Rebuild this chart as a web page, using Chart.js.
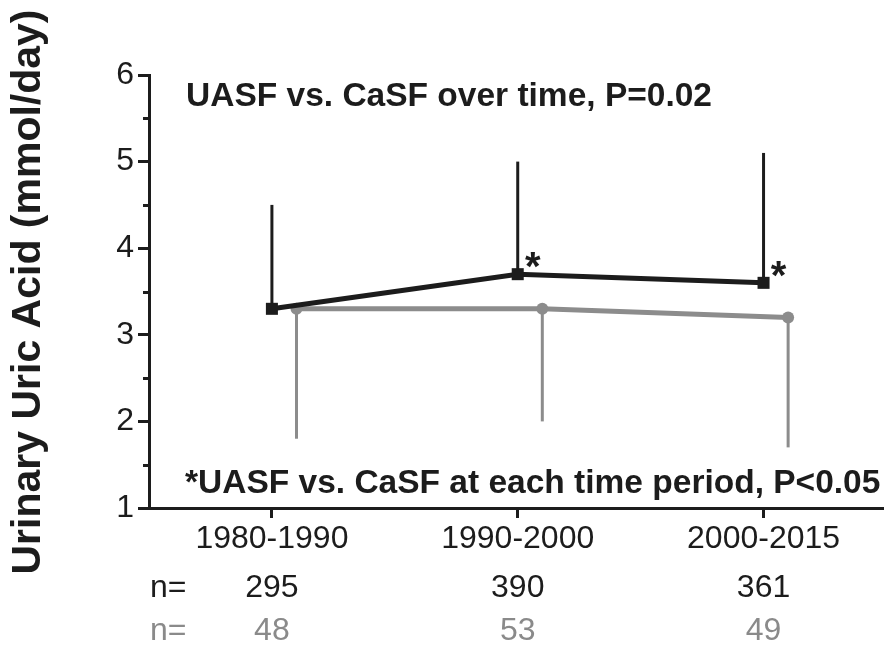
<!DOCTYPE html>
<html><head><meta charset="utf-8">
<script src="https://cdn.jsdelivr.net/npm/chart.js@4.4.1/dist/chart.umd.min.js"></script>
<style>html,body{margin:0;padding:0;background:#fff;}#wrap{width:884px;height:648px;}</style>
</head><body><div id="wrap"><canvas id="c" width="884" height="648"></canvas></div>
<script>
// ---- data ----
const categories = ['1980-1990', '1990-2000', '2000-2015'];
const uasfMean  = [3.3, 3.7, 3.6];
const uasfUpper = [4.5, 5.0, 5.1];
const casfMean  = [3.3, 3.3, 3.2];
const casfLower = [1.8, 2.0, 1.7];
const uasfN = [295, 390, 361];
const casfN = [48, 53, 49];
const sigFlags = [false, true, true];
const yTicks = [1, 2, 3, 4, 5, 6];
const titleText = 'UASF vs. CaSF over time, P=0.02';
const footText = '*UASF vs. CaSF at each time period, P<0.05';
const yTitle = 'Urinary Uric Acid (mmol/day)';

// ---- style ----
const BLACK = '#1c1c1c';
const GRAY = '#8c8c8c';
const GRAYTXT = '#8a8a8a';
const DODGE = 0.1;
const FONT = '"Liberation Sans", Arial, Helvetica, sans-serif';

const overlay = {
  id: 'overlay',
  beforeDatasetsDraw(chart) {
    const {ctx, scales: {x, y}} = chart;
    ctx.save();
    ctx.lineCap = 'butt';
    ctx.strokeStyle = BLACK; ctx.lineWidth = 3;
    uasfMean.forEach((m, i) => {
      const px = x.getPixelForValue(i);
      ctx.beginPath(); ctx.moveTo(px, y.getPixelForValue(m)); ctx.lineTo(px, y.getPixelForValue(uasfUpper[i])); ctx.stroke();
    });
    ctx.strokeStyle = GRAY; ctx.lineWidth = 3;
    casfMean.forEach((m, i) => {
      const px = x.getPixelForValue(i + DODGE);
      ctx.beginPath(); ctx.moveTo(px, y.getPixelForValue(m)); ctx.lineTo(px, y.getPixelForValue(casfLower[i])); ctx.stroke();
    });
    ctx.restore();
  },
  afterDraw(chart) {
    const {ctx, chartArea, scales: {x, y}} = chart;
    ctx.save();
    // minor ticks
    ctx.strokeStyle = BLACK; ctx.lineWidth = 3;
    for (let k = 0; k < yTicks.length - 1; k++) {
      const v = (yTicks[k] + yTicks[k + 1]) / 2;
      const py = Math.round(y.getPixelForValue(v)) + 0.5;
      ctx.beginPath(); ctx.moveTo(chartArea.left - 6, py); ctx.lineTo(chartArea.left, py); ctx.stroke();
    }
    // asterisks
    ctx.fillStyle = BLACK;
    ctx.font = 'bold 40px ' + FONT;
    ctx.textAlign = 'center'; ctx.textBaseline = 'alphabetic';
    sigFlags.forEach((s, i) => {
      if (!s) return;
      ctx.fillText('*', x.getPixelForValue(i) + 15, y.getPixelForValue(uasfMean[i]) + 6);
    });
    // annotations
    ctx.font = 'bold 33.5px ' + FONT;
    ctx.textAlign = 'left'; ctx.textBaseline = 'middle';
    ctx.fillText(titleText, 186, 97);
    ctx.fillText(footText, 185, 484);
    // n rows
    ctx.font = '32px ' + FONT;
    ctx.textAlign = 'left';
    ctx.fillStyle = BLACK; ctx.fillText('n=', 150, 588);
    ctx.fillStyle = GRAYTXT; ctx.fillText('n=', 150, 631);
    ctx.textAlign = 'center';
    uasfN.forEach((n, i) => { ctx.fillStyle = BLACK; ctx.fillText(String(n), x.getPixelForValue(i), 588); });
    casfN.forEach((n, i) => { ctx.fillStyle = GRAYTXT; ctx.fillText(String(n), x.getPixelForValue(i), 631); });
    // y title
    ctx.translate(29, 292);
    ctx.rotate(-Math.PI / 2);
    ctx.fillStyle = BLACK;
    ctx.font = 'bold 41px ' + FONT;
    ctx.textAlign = 'center'; ctx.textBaseline = 'middle';
    ctx.fillText(yTitle, 0, 0);
    ctx.restore();
  }
};

new Chart(document.getElementById('c'), {
  type: 'line',
  data: {
    datasets: [
      {
        label: 'UASF',
        data: uasfMean.map((v, i) => ({x: i, y: v})),
        borderColor: BLACK, backgroundColor: BLACK, borderWidth: 5,
        pointStyle: 'rect', pointRadius: 8.5, pointBorderWidth: 0, pointBackgroundColor: BLACK,
        tension: 0, order: 1
      },
      {
        label: 'CaSF',
        data: casfMean.map((v, i) => ({x: i + DODGE, y: v})),
        borderColor: GRAY, backgroundColor: GRAY, borderWidth: 5,
        pointStyle: 'circle', pointRadius: 6, pointBorderWidth: 0, pointBackgroundColor: GRAY,
        tension: 0, order: 2
      }
    ]
  },
  options: {
    responsive: false, animation: false, devicePixelRatio: 1,
    layout: {autoPadding: false, padding: {top: 75, left: 0, right: 0, bottom: 0}},
    plugins: {legend: {display: false}, tooltip: {enabled: false}, title: {display: false}},
    scales: {
      x: {
        type: 'linear', min: -0.5, max: 2.49,
        afterFit(s) { s.height = 140; },
        grid: {drawOnChartArea: false, drawTicks: true, tickLength: 10, tickWidth: 3, tickColor: BLACK},
        border: {display: true, color: BLACK, width: 3},
        ticks: {
          stepSize: 1, includeBounds: false, autoSkip: false, maxRotation: 0, padding: 2,
          color: BLACK, font: {family: FONT, size: 32},
          callback: (v) => Number.isInteger(v) && categories[v] !== undefined ? categories[v] : ''
        }
      },
      y: {
        min: yTicks[0], max: yTicks[yTicks.length - 1],
        afterFit(s) { s.width = 149; },
        afterBuildTicks(s) { s.ticks = yTicks.map(v => ({value: v})); },
        grid: {drawOnChartArea: false, drawTicks: true, tickLength: 11, tickWidth: 3, tickColor: BLACK},
        border: {display: true, color: BLACK, width: 3},
        ticks: {padding: 4, color: BLACK, font: {family: FONT, size: 32}}
      }
    }
  },
  plugins: [overlay]
});
</script>
</body></html>
